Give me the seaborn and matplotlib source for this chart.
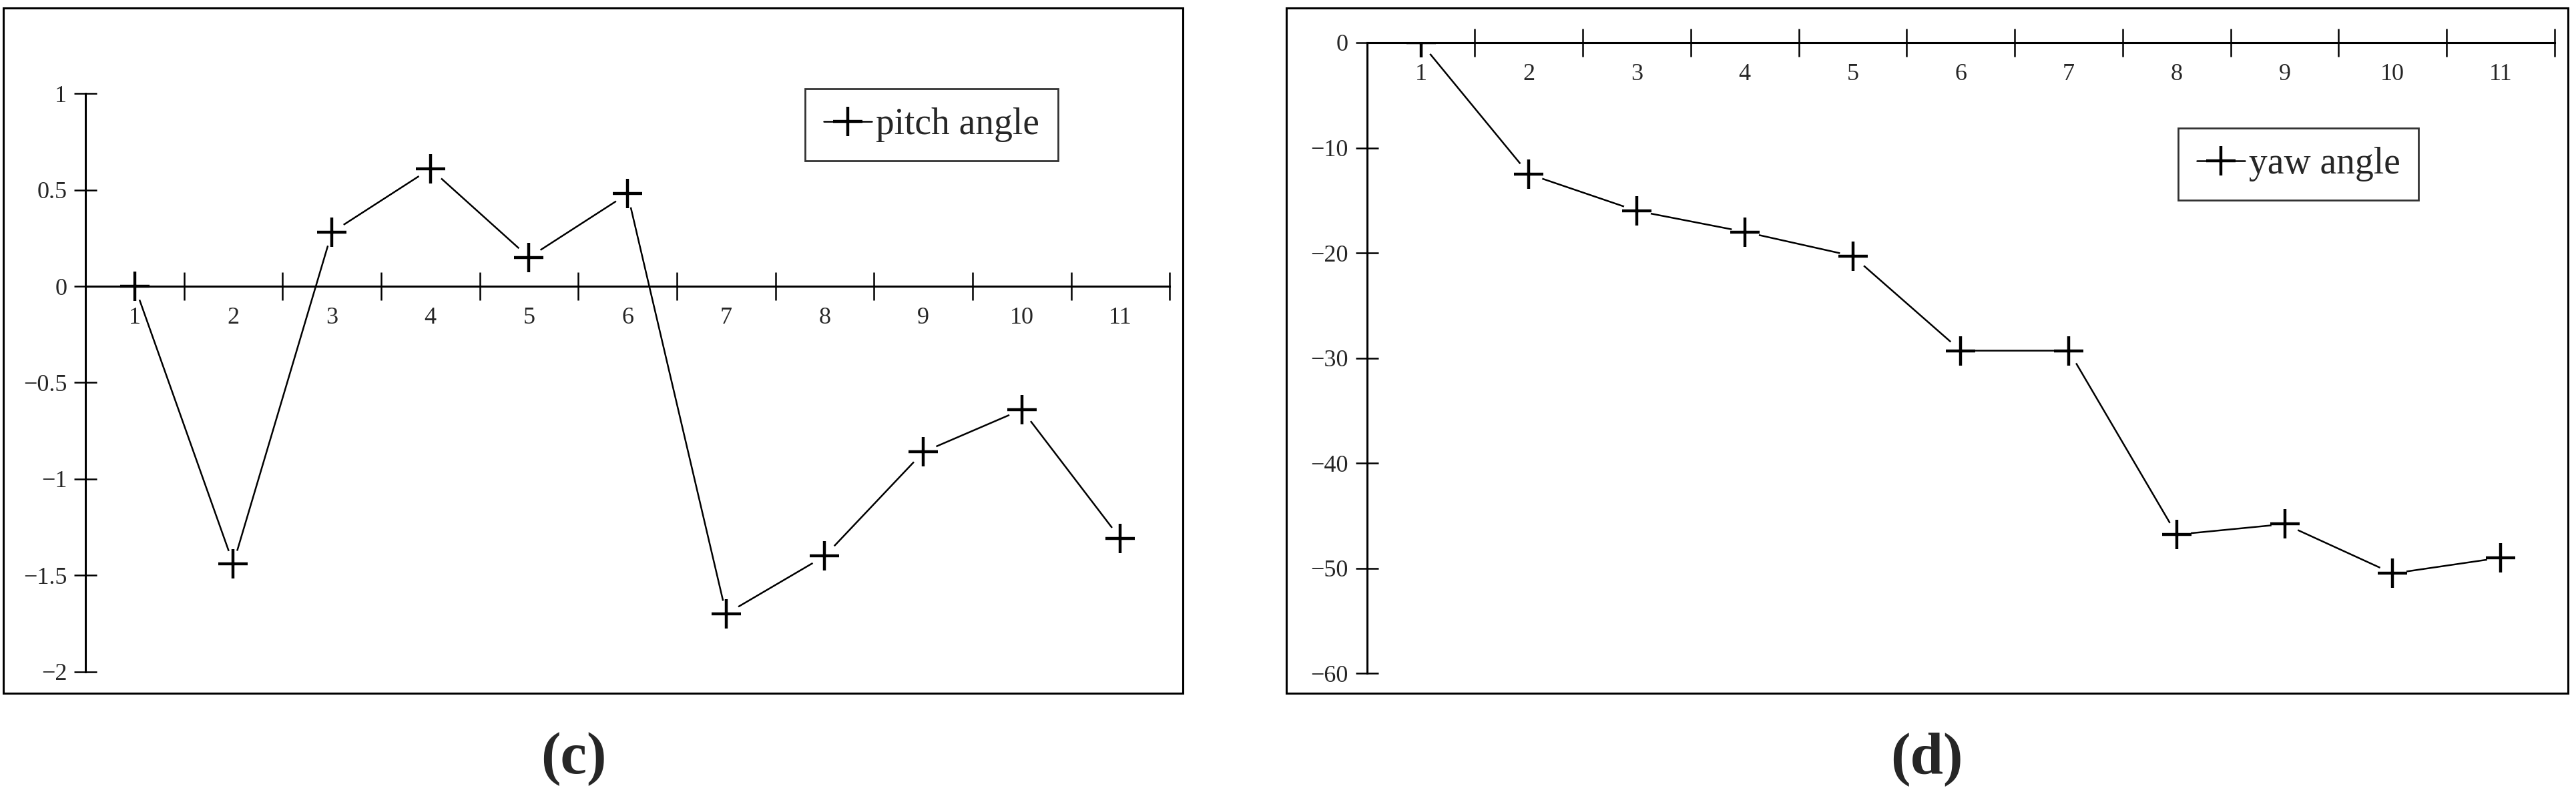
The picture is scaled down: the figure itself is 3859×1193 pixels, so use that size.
import matplotlib
matplotlib.use("Agg")
import matplotlib.pyplot as plt
import seaborn as sns
import numpy as np
from matplotlib.patches import Rectangle

sns.set_theme(style="white")
plt.rcParams['font.family'] = ['Liberation Serif', 'DejaVu Serif']
plt.rcParams['axes.unicode_minus'] = True

categories = [1, 2, 3, 4, 5, 6, 7, 8, 9, 10, 11]
pitch = [0, -1.44, 0.28, 0.61, 0.15, 0.48, -1.70, -1.40, -0.86, -0.64, -1.31]
yaw = [0, -12.5, -16.0, -18.0, -20.3, -29.3, -29.3, -46.8, -45.8, -50.5, -49.0]
pitch_ticks = [1, 0.5, 0, -0.5, -1, -1.5, -2]
yaw_ticks = [0, -10, -20, -30, -40, -50, -60]

W, H = 1568.0, 484.7
fig = plt.figure(figsize=(38.59, 11.93), dpi=100)

def fx(x): return x / W
def fy(y): return 1 - y / H

def box(x0, y0, x1, y1):
    fig.patches.append(Rectangle((fx(x0), fy(y1)), fx(x1) - fx(x0), fy(y0) - fy(y1),
                                 transform=fig.transFigure, fill=False, ec='black', lw=2.2))

def panel(rect_px, data, ylim, yticks, ylabels, label, leg_center, legtxt, letter_x):
    x0, y0, x1, y1 = rect_px
    ax = fig.add_axes([fx(x0), fy(y1), fx(x1) - fx(x0), fy(y0) - fy(y1)])
    ax.set_facecolor('none')
    sns.lineplot(x=categories, y=data, ax=ax, color='black', lw=1.8, zorder=2)
    ax.plot(categories, data, ls='none', marker='o', color='white', markersize=30,
            markeredgewidth=0, zorder=3)
    ax.plot(categories, data, ls='-', lw=0, marker='+', color='black', markersize=32,
            markeredgewidth=3.2, markeredgecolor='black', zorder=4, label=legtxt)
    ax.set_xlim(0.5, 11.5)
    ax.set_ylim(*ylim)
    for s in ['top', 'right']:
        ax.spines[s].set_visible(False)
    ax.spines['bottom'].set_position(('data', 0))
    for s in ['left', 'bottom']:
        ax.spines[s].set_color('black')
        ax.spines[s].set_linewidth(2.2)
    ax.set_xticks(np.arange(1.5, 11.6, 1.0))
    ax.set_xticklabels([])
    ax.set_xticks(categories, minor=True)
    ax.set_xticklabels([str(c) for c in categories], minor=True)
    ax.tick_params(axis='x', which='major', direction='inout', length=30, width=1.8, color='black', bottom=True)
    ax.tick_params(axis='x', which='minor', length=0, labelsize=26, pad=22, bottom=True)
    ax.set_yticks(yticks)
    ax.set_yticklabels(ylabels)
    ax.tick_params(axis='y', direction='inout', length=24, width=1.8, color='black', labelsize=26, pad=8, left=True)
    ax.grid(False)
    leg = ax.legend(loc='center', bbox_to_anchor=(fx(leg_center[0]), fy(leg_center[1])),
                    bbox_transform=fig.transFigure, frameon=True, fancybox=False,
                    fontsize=40, handlelength=1.3, handletextpad=0.1, borderpad=0.5,
                    edgecolor='black')
    leg.get_frame().set_linewidth(2.0)
    for h in leg.legend_handles:
        h.set_linestyle('-')
        h.set_linewidth(1.8)
    fig.text(fx(letter_x), fy(462), label, ha='center', va='center', fontsize=64, fontweight='bold')
    return ax

box(2, 5, 720, 422)
box(783, 5, 1563, 422)

panel((52, 57, 712, 409), pitch, (-2, 1), pitch_ticks,
      ['1', '0.5', '0', '\u22120.5', '\u22121', '\u22121.5', '\u22122'],
      '(c)', (567, 76), 'pitch angle', 349)
panel((832, 26, 1555, 410), yaw, (-60, 0), yaw_ticks,
      ['0', '\u221210', '\u221220', '\u221230', '\u221240', '\u221250', '\u221260'],
      '(d)', (1399, 100), 'yaw angle', 1173)

fig.savefig('out.png', dpi=100, facecolor='white')
